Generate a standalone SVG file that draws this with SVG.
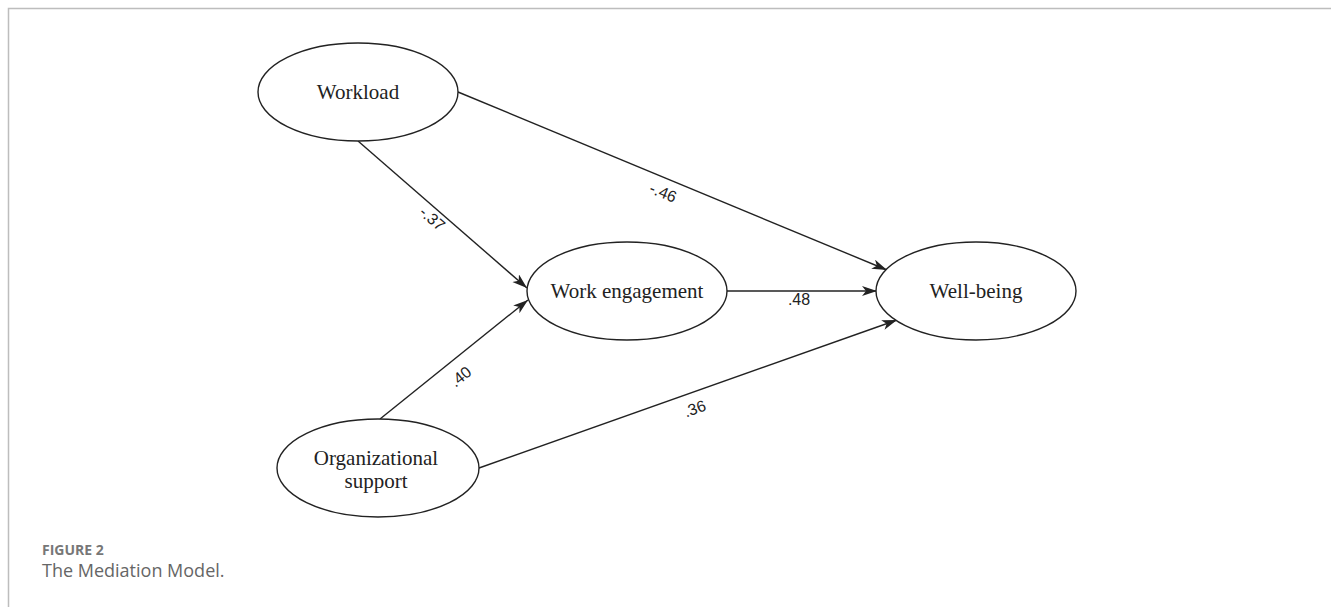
<svg xmlns="http://www.w3.org/2000/svg" width="1331" height="607" viewBox="0 0 1331 607">
  <style>
    .node ellipse { fill: #fff; stroke: #222; stroke-width: 1.4; }
    .node text { font-family: "Liberation Serif", "Times New Roman", serif; font-size: 21px; fill: #222; text-anchor: middle; }
    .edge { stroke: #222; stroke-width: 1.4; fill: none; marker-end: url(#arr); }
    .lbl { font-family: "Liberation Sans", Arial, sans-serif; font-size: 16px; fill: #222; text-anchor: middle; }
    .frame { stroke: #bdbdbd; stroke-width: 1.5; fill: none; }
    .cap1 { font-family: "Open Sans", "Noto Sans", sans-serif; font-size: 14px; font-weight: bold; fill: #777; }
    .cap2 { font-family: "Open Sans", "Noto Sans", sans-serif; font-size: 18px; fill: #666; }
  </style>
  <defs>
    <marker id="arr" markerUnits="userSpaceOnUse" markerWidth="16" markerHeight="12" refX="15" refY="5" orient="auto">
      <path d="M0,0 L15,5 L0,10 L4,5 z" fill="#222"/>
    </marker>
  </defs>
  <rect width="1331" height="607" fill="#fff"/>
  <path class="frame" d="M8.5,607 L8.5,8.5 L1331,8.5"/>

  <g id="connectors">
    <line class="edge" x1="358" y1="141" x2="527" y2="288"/>
    <line class="edge" x1="380" y1="419" x2="528" y2="300"/>
    <line class="edge" x1="458" y1="92" x2="887" y2="270"/>
    <line class="edge" x1="727" y1="291" x2="877" y2="291"/>
    <line class="edge" x1="479" y1="468" x2="897" y2="320"/>
    <text class="lbl" transform="translate(432,219) rotate(41)" y="5">-.37</text>
    <text class="lbl" transform="translate(663,193) rotate(22.5)" y="5">-.46</text>
    <text class="lbl" transform="translate(461,377) rotate(-39)" y="5">.40</text>
    <text class="lbl" transform="translate(695,409) rotate(-19.5)" y="5">.36</text>
    <text class="lbl" x="799" y="305">.48</text>
  </g>

  <g id="workload" class="node">
    <ellipse cx="358" cy="92" rx="100" ry="49"/>
    <text x="358" y="99">Workload</text>
  </g>
  <g id="work-engagement" class="node">
    <ellipse cx="627" cy="291" rx="100" ry="49"/>
    <text x="627" y="298">Work engagement</text>
  </g>
  <g id="well-being" class="node">
    <ellipse cx="976" cy="291" rx="100" ry="49"/>
    <text x="976" y="298">Well-being</text>
  </g>
  <g id="organizational-support" class="node">
    <ellipse cx="378" cy="468" rx="101" ry="49"/>
    <text x="376" y="465">Organizational</text>
    <text x="376" y="488">support</text>
  </g>

  <g id="caption">
    <text class="cap1" x="42" y="555">FIGURE 2</text>
    <text class="cap2" x="42" y="577">The Mediation Model.</text>
  </g>
</svg>
